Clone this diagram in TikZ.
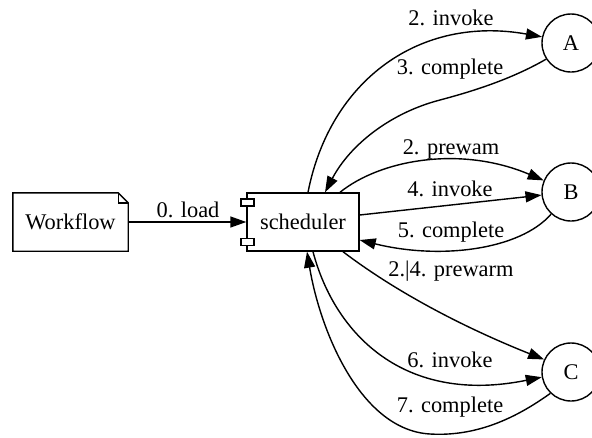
\documentclass[tikz,border=0pt]{standalone}
\usepackage{fontspec}
\setmainfont{Liberation Serif}
\usetikzlibrary{arrows.meta}
\begin{document}
\begin{tikzpicture}[x=1pt,y=-1pt,
  lbl/.style={font=\fontsize{22.4}{26}\selectfont},
  txt/.style={lbl, anchor=base, inner sep=0pt},
  outline/.style={line width=1.4pt},
  edge/.style={outline, -{Triangle[length=16pt,width=11pt]}},
  worker/.style={lbl, circle, draw, outline, minimum size=58pt, inner sep=0pt},
  plug/.style={outline, fill=white}
]
\useasboundingbox (0,0) rectangle (592,437);

% workflow document (note with folded corner)
\node[lbl, minimum width=115pt, minimum height=58pt] (wf) at (70.5,222) {Workflow};
\draw[outline] (wf.north west) -- ([xshift=-10pt]wf.north east)
  -- ([yshift=-10pt]wf.north east) -- (wf.south east) -- (wf.south west) -- cycle;
\draw[outline] ([xshift=-10pt]wf.north east) |- ([yshift=-10pt]wf.north east);

% scheduler component
\node[lbl, draw, outline, minimum width=112pt, minimum height=58pt] (sched) at (303,222) {scheduler};
\draw[plug] ([xshift=-5.5pt,yshift=-6.5pt]sched.north west) rectangle ++(13,7);
\draw[plug] ([xshift=-5.5pt,yshift=6.5pt]sched.south west) rectangle ++(13,-7);

% workers
\node[worker] (A) at (571,43) {A};
\node[worker] (B) at (571,192) {B};
\node[worker] (C) at (571,372) {C};

% load
\draw[edge] (wf) -- (sched);
\node[txt] (l0) at (188,217) {0. load};

% worker A
\draw[edge] ([xshift=5pt]sched.north) .. controls (330,80) and (420,15) .. (A.168);
\node[txt] (l1) at (451,25.5) {2. invoke};
\draw[edge] (A.213) .. controls (510,80) and (470,92) .. (440,100)
  .. controls (390,113) and (350,145) .. ([xshift=22pt]sched.north);
\node[txt] (l2) at (450,74.5) {3. complete};

% worker B
\draw[edge] ([xshift=37pt]sched.north) .. controls (380,160) and (460,145) .. (B.157);
\node[txt] (l3) at (451,154.5) {2. prewam};
\draw[edge] ([yshift=7pt]sched.east) -- (B.186);
\node[txt] (l4) at (450,196.5) {4. invoke};
\draw[edge] (B.228) .. controls (520,250) and (440,260) .. ([yshift=-18pt]sched.east);
\node[txt] (l5) at (451,237.5) {5. complete};

% worker C
\draw[edge] ([xshift=40pt]sched.south) .. controls (400,295) and (470,330) .. (C.155);
\node[txt] (l6) at (451,276.5) {2.|4. prewarm};
\draw[edge] ([xshift=10pt]sched.south) .. controls (335,335) and (405,405) .. (C.190);
\node[txt] (l7) at (450,367.5) {6. invoke};
\draw[edge] (C.226) .. controls (520,415) and (480,437) .. (430,434)
  .. controls (360,430) and (320,330) .. ([xshift=4pt]sched.south);
\node[txt] (l8) at (450,412.5) {7. complete};
\end{tikzpicture}
\end{document}
